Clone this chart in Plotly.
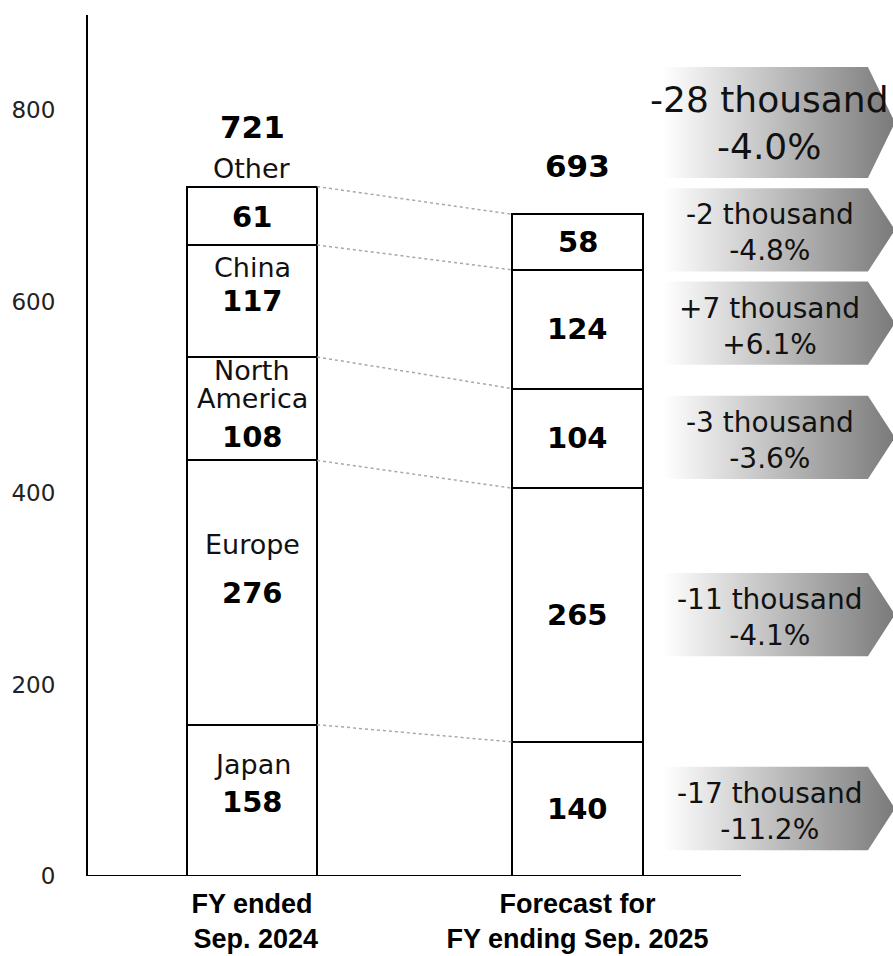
import plotly.graph_objects as go

# ---- data (thousand units) ----
regions = ["Japan", "Europe", "North America", "China", "Other"]
fy2024 = [158, 276, 108, 117, 61]
fy2025 = [140, 265, 104, 124, 58]
total_2024 = 721
total_2025 = 693
period_labels = ["<b>FY ended<br> Sep. 2024</b>", "<b>Forecast for<br>FY ending Sep. 2025</b>"]
change_abs = ["-17 thousand", "-11 thousand", "-3 thousand", "+7 thousand", "-2 thousand"]
change_pct = ["-11.2%", "-4.1%", "-3.6%", "+6.1%", "-4.8%"]
total_change_abs = "-28 thousand"
total_change_pct = "-4.0%"
y_ticks = [0, 200, 400, 600, 800]

# ---- layout constants ----
W, H = 893, 956
BAR_W = 0.4
X_RANGE = [-0.504, 1.969]
Y_RANGE = [0, 899.2]
NAME_FONT = dict(family="DejaVu Sans", size=27, color="#111111")
VAL_FONT = dict(family="DejaVu Sans", size=29, color="#000000")
TOT_FONT = dict(family="DejaVu Sans", size=31, color="#000000")
ARROW_FONT = dict(family="DejaVu Sans", size=28, color="#111111")
BIG_ARROW_FONT = dict(family="DejaVu Sans", size=36, color="#111111")

# arrow geometry (x in axis units, heights in value units)
ARROW_X0, ARROW_XP, ARROW_XT = 1.263, 1.892, 1.975
ARROW_H = 87
BIG_ARROW_H = 116
BIG_ARROW_CY = 787
ARROW_NUDGE = [0.5, 0.5, 1, 6.5, 12.7]  # keeps neighbouring arrows apart
TEXT_X = 1.591


def cum(vals):
    out, s = [], 0
    for v in vals:
        out.append((s, s + v))
        s += v
    return out


seg24 = cum(fy2024)
seg25 = cum(fy2025)

fig = go.Figure()


def arrow(cy, h):
    xs = [ARROW_X0, ARROW_XP, ARROW_XT, ARROW_XP, ARROW_X0, ARROW_X0]
    ys = [cy + h / 2, cy + h / 2, cy, cy - h / 2, cy - h / 2, cy + h / 2]
    fig.add_trace(go.Scatter(
        x=xs, y=ys, mode="lines", fill="toself",
        line=dict(width=0, color="rgba(0,0,0,0)"),
        fillgradient=dict(type="horizontal",
                          colorscale=[[0, "#ffffff"], [1, "#7a7a7a"]]),
        hoverinfo="skip", showlegend=False))


# gradient arrows with the change vs previous year
arrow(BIG_ARROW_CY, BIG_ARROW_H)
for (lo, hi), nudge in zip(seg25, ARROW_NUDGE):
    arrow((lo + hi) / 2 + nudge, ARROW_H)

# stacked bars
for i, r in enumerate(regions):
    fig.add_trace(go.Bar(
        x=[0, 1], y=[fy2024[i], fy2025[i]], width=BAR_W, name=r,
        marker=dict(color="white", line=dict(color="black", width=2)),
        showlegend=False, hoverinfo="skip"))

# dotted connectors between segment boundaries
for (_, h24), (_, h25) in zip(seg24, seg25):
    fig.add_trace(go.Scatter(
        x=[BAR_W / 2, 1 - BAR_W / 2], y=[h24, h25], mode="lines",
        line=dict(color="#a8a8a8", width=1.5, dash="dot"),
        hoverinfo="skip", showlegend=False))

ann = []


def label(x, y, text, font, yshift=0):
    ann.append(dict(x=x, y=y, text=text, font=font, showarrow=False,
                    xanchor="center", yanchor="middle", yshift=yshift))


# left bar: region names and values
name_shift = [36, 48, None, 34, 47]
val_shift = [-2, 0, -28, 0, -1]
for i, ((lo, hi), r) in enumerate(zip(seg24, regions)):
    mid = (lo + hi) / 2
    if r == "North America":
        label(0, mid, "North", NAME_FONT, 38)
        label(0, mid, "America", NAME_FONT, 10)
    else:
        label(0, mid, r, NAME_FONT, name_shift[i])
    label(0, mid, f"<b>{fy2024[i]}</b>", VAL_FONT, val_shift[i])
label(0, seg24[-1][1], f"<b>{total_2024}</b>", TOT_FONT, 60)

# right bar: values
for (lo, hi), v in zip(seg25, fy2025):
    label(1, (lo + hi) / 2, f"<b>{v}</b>", VAL_FONT, 0)
label(1, seg25[-1][1], f"<b>{total_2025}</b>", TOT_FONT, 48)

# arrow texts
label(TEXT_X, BIG_ARROW_CY, f"{total_change_abs}<br>{total_change_pct}", BIG_ARROW_FONT, -1)
for (lo, hi), nudge, a, p in zip(seg25, ARROW_NUDGE, change_abs, change_pct):
    label(TEXT_X, (lo + hi) / 2 + nudge, f"{a}<br>{p}", ARROW_FONT, -3)

fig.update_layout(
    width=W, height=H, barmode="stack",
    margin=dict(l=88, r=0, t=15, b=80),
    plot_bgcolor="white", paper_bgcolor="white",
    annotations=ann,
    shapes=[dict(type="line", xref="x", yref="y", x0=X_RANGE[0], x1=1.502,
                 y0=0, y1=0, line=dict(color="black", width=2), layer="above")],
    xaxis=dict(range=X_RANGE, tickvals=[0, 1], ticktext=period_labels,
               showline=False, showgrid=False, zeroline=False, ticks="",
               tickfont=dict(family="Liberation Sans", size=27, color="#000000"),
               ticklabelstandoff=9, automargin=False),
    yaxis=dict(range=Y_RANGE, tickvals=y_ticks, showline=True, linecolor="black",
               linewidth=2, showgrid=False, zeroline=False, ticks="",
               tickfont=dict(family="DejaVu Sans", size=23, color="#222222"),
               ticklabelstandoff=26, automargin=False),
)

fig.write_html("out.html")
